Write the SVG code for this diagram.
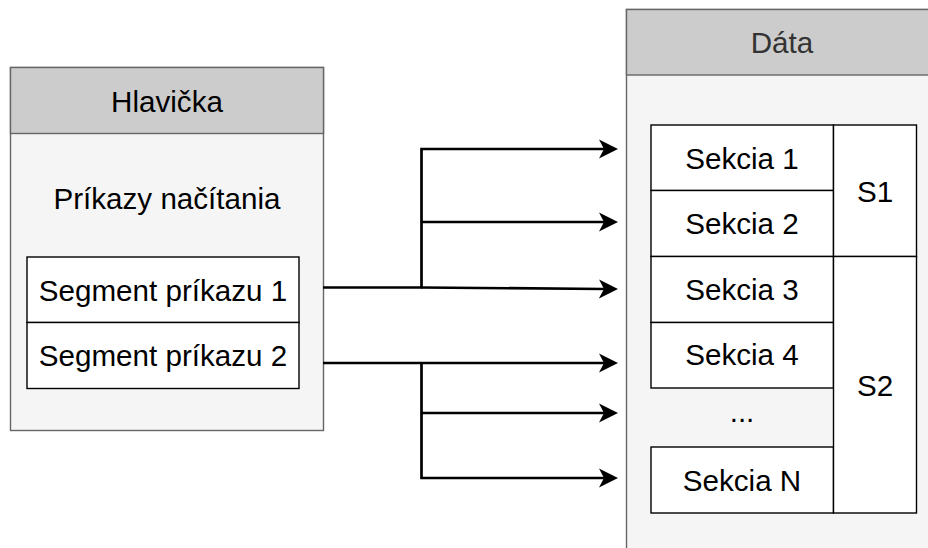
<svg xmlns="http://www.w3.org/2000/svg" width="928" height="548" viewBox="0 0 928 548">
  <style>
    text { font-family: "Liberation Sans", Arial, Helvetica, sans-serif; font-size: 29.6px; text-anchor: middle; dominant-baseline: central; fill: #000; }
    .lane-head { fill: #cccccc; stroke: #666666; stroke-width: 1.4; }
    .lane-body { fill: #f5f5f5; stroke: #666666; stroke-width: 1.4; }
    .cell { fill: #ffffff; stroke: #000000; stroke-width: 1.4; }
    .edge { fill: none; stroke: #000000; stroke-width: 2.7; stroke-linejoin: miter; }
    .muted { fill: #333333; }
  </style>
  <defs>
    <marker id="arrow" markerUnits="userSpaceOnUse" viewBox="0 -10 20 20" markerWidth="20" markerHeight="20" refX="5" refY="0" orient="auto">
      <path d="M0,-9.5 L19,0 L0,9.5 L5,0 Z" fill="#000"/>
    </marker>
  </defs>

  <!-- Header block -->
  <g id="hlavicka">
    <rect class="lane-body" x="10.5" y="67.5" width="313" height="363"/>
    <rect class="lane-head" x="10.5" y="67.5" width="313" height="66"/>
    <text x="167" y="101">Hlavička</text>
    <text x="167" y="198">Príkazy načítania</text>
  </g>
  <g id="segment1">
    <rect class="cell" x="27" y="257" width="272" height="65.5"/>
    <text x="163" y="290">Segment príkazu 1</text>
  </g>
  <g id="segment2">
    <rect class="cell" x="27" y="322.5" width="272" height="66"/>
    <text x="163" y="355">Segment príkazu 2</text>
  </g>

  <!-- Data block -->
  <g id="data">
    <rect class="lane-body" x="626.5" y="9.5" width="330" height="560"/>
    <rect class="lane-head" x="626.5" y="9.5" width="330" height="65.5"/>
    <text class="muted" x="782" y="42.5">Dáta</text>
  </g>
  <g id="sekcia1">
    <rect class="cell" x="651" y="125" width="182.5" height="65.5"/>
    <text x="742" y="158">Sekcia 1</text>
  </g>
  <g id="sekcia2">
    <rect class="cell" x="651" y="190.5" width="182.5" height="66"/>
    <text x="742" y="223">Sekcia 2</text>
  </g>
  <g id="sekcia3">
    <rect class="cell" x="651" y="256.5" width="182.5" height="66"/>
    <text x="742" y="289">Sekcia 3</text>
  </g>
  <g id="sekcia4">
    <rect class="cell" x="651" y="322.5" width="182.5" height="65.5"/>
    <text x="742" y="354">Sekcia 4</text>
  </g>
  <g id="ellipsis">
    <text x="742" y="411">...</text>
  </g>
  <g id="sekciaN">
    <rect class="cell" x="651" y="447" width="182.5" height="66"/>
    <text x="742" y="480">Sekcia N</text>
  </g>
  <g id="s1">
    <rect class="cell" x="833.5" y="125" width="83" height="131.5"/>
    <text x="875" y="191">S1</text>
  </g>
  <g id="s2">
    <rect class="cell" x="833.5" y="256.5" width="83" height="256.5"/>
    <text x="875" y="385">S2</text>
  </g>

  <!-- Connectors -->
  <g id="connectors">
    <path class="edge" d="M323,287.5 H421.5 V149 H604" marker-end="url(#arrow)"/>
    <path class="edge" d="M421.5,222 H604" marker-end="url(#arrow)"/>
    <path class="edge" d="M421.5,287.5 L604,289" marker-end="url(#arrow)"/>
    <path class="edge" d="M323,363 H604" marker-end="url(#arrow)"/>
    <path class="edge" d="M421.5,363 V478 H604" marker-end="url(#arrow)"/>
    <path class="edge" d="M421.5,413 H604" marker-end="url(#arrow)"/>
  </g>
</svg>
